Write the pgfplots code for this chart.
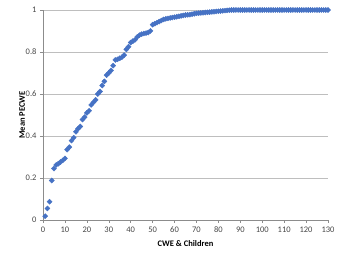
\documentclass[border=0pt]{standalone}
\usepackage{pgfplots}
\pgfplotsset{compat=1.18}
\usepackage{fontspec}
\setmainfont{Carlito}
\definecolor{mk}{RGB}{70,114,196}
\definecolor{gridc}{RGB}{190,190,190}
\definecolor{axc}{RGB}{140,140,140}
\definecolor{txt}{RGB}{70,70,70}
\begin{document}
\begin{tikzpicture}
\begin{axis}[
  scale only axis, width=285pt, height=210pt,
  xmin=0, xmax=130, ymin=0, ymax=1,
  xtick={0,10,...,130}, ytick={0,0.2,...,1},
  yticklabels={0,0.2,0.4,0.6,0.8,1},
  axis x line=bottom, axis y line=left,
  axis line style={-, draw=axc},
  tick style={draw=axc, thin},
  tick align=outside, major tick length=3pt,
  ymajorgrids, grid style={draw=gridc, line width=0.6pt},
  ticklabel style={font=\fontsize{8.5}{10}\selectfont, text=txt},
  /pgf/number format/assume math mode=true,
  xlabel={\textbf{CWE \& Children}}, ylabel={\textbf{Mean\ PECWE}},
  label style={font=\fontsize{8.5}{10}\selectfont, text=black},
  xlabel style={yshift=-1pt},
  ylabel style={yshift=-6pt},
  clip=false,
]
\addplot[only marks, mark=square*, mark size=1.8pt, mark options={rotate=45, fill=mk, draw=mk}] coordinates {
(1,0.018)(2,0.055)(3,0.087)(4,0.188)(5,0.245)(6,0.262)(7,0.268)(8,0.276)(9,0.284)(10,0.293)
(11,0.335)(12,0.347)(13,0.378)(14,0.392)(15,0.42)(16,0.435)(17,0.445)(18,0.478)(19,0.49)(20,0.51)
(21,0.52)(22,0.548)(23,0.56)(24,0.572)(25,0.6)(26,0.612)(27,0.64)(28,0.66)(29,0.69)(30,0.7)
(31,0.712)(32,0.735)(33,0.762)(34,0.765)(35,0.77)(36,0.775)(37,0.785)(38,0.812)(39,0.825)(40,0.845)
(41,0.852)(42,0.858)(43,0.872)(44,0.88)(45,0.885)(46,0.888)(47,0.89)(48,0.893)(49,0.9)(50,0.93)
(51,0.935)(52,0.94)(53,0.945)(54,0.95)(55,0.955)(56,0.958)(57,0.96)(58,0.962)(59,0.964)(60,0.966)
(61,0.968)(62,0.97)(63,0.972)(64,0.974)(65,0.976)(66,0.977)(67,0.978)(68,0.98)(69,0.982)(70,0.984)
(71,0.985)(72,0.986)(73,0.987)(74,0.988)(75,0.989)(76,0.99)(77,0.991)(78,0.992)(79,0.993)(80,0.994)
(81,0.995)(82,0.996)(83,0.997)(84,0.998)(85,0.999)(86,1)(87,1)(88,1)(89,1)(90,1)
(91,1)(92,1)(93,1)(94,1)(95,1)(96,1)(97,1)(98,1)(99,1)(100,1)
(101,1)(102,1)(103,1)(104,1)(105,1)(106,1)(107,1)(108,1)(109,1)(110,1)
(111,1)(112,1)(113,1)(114,1)(115,1)(116,1)(117,1)(118,1)(119,1)(120,1)
(121,1)(122,1)(123,1)(124,1)(125,1)(126,1)(127,1)(128,1)(129,1)(130,1)
};
\end{axis}
\path[use as bounding box] ([xshift=-43pt,yshift=-41pt]current axis.south west) rectangle ([xshift=20pt,yshift=10pt]current axis.north east);
\end{tikzpicture}
\end{document}
